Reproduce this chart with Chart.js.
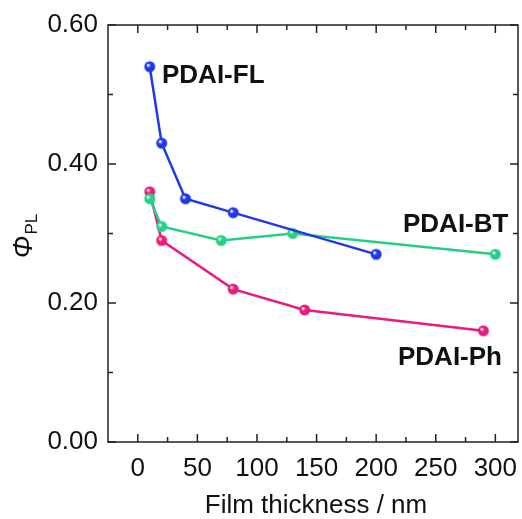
<!DOCTYPE html>
<html>
<head>
<meta charset="utf-8">
<script src="https://cdn.jsdelivr.net/npm/chart.js@4.4.0/dist/chart.umd.min.js"></script>
<style>
  html, body { margin: 0; padding: 0; background: #fff; }
  #wrap { width: 522px; height: 519px; position: relative; }
</style>
</head>
<body>
<div id="wrap"><canvas id="c" width="522" height="519"></canvas></div>
<script>
// ---- data ----
const seriesNames = ['PDAI-FL', 'PDAI-BT', 'PDAI-Ph'];
const thicknessFL = [10, 20, 40, 80, 200];
const phiFL       = [0.54, 0.43, 0.35, 0.33, 0.27];
const thicknessBT = [10, 20, 70, 130, 300];
const phiBT       = [0.35, 0.31, 0.29, 0.30, 0.27];
const thicknessPh = [10, 20, 80, 140, 290];
const phiPh       = [0.36, 0.29, 0.22, 0.19, 0.16];
const xTicks = [0, 50, 100, 150, 200, 250, 300];
const yTicks = [0.00, 0.20, 0.40, 0.60];
const xMinorTicks = [25, 75, 125, 175, 225, 275];
const yMinorTicks = [0.10, 0.30, 0.50];
const xTitle = 'Film thickness / nm';

const colors = ['#2138e6', '#27cf86', '#ea1a7e'];

function sphere(color) {
  const r = 5.5, s = 14;
  const cv = document.createElement('canvas');
  cv.width = s; cv.height = s;
  const g = cv.getContext('2d');
  const grad = g.createRadialGradient(s/2 - 1.8, s/2 - 1.8, 0.5, s/2, s/2, r);
  grad.addColorStop(0, '#ffffff');
  grad.addColorStop(0.35, color);
  grad.addColorStop(1, color);
  g.fillStyle = grad;
  g.beginPath(); g.arc(s/2, s/2, r, 0, Math.PI * 2); g.fill();
  return cv;
}

function toPts(xs, ys) { return xs.map((x, i) => ({ x: x, y: ys[i] })); }

const datasets = [
  [thicknessFL, phiFL], [thicknessBT, phiBT], [thicknessPh, phiPh]
].map((d, i) => ({
  label: seriesNames[i],
  data: toPts(d[0], d[1]),
  borderColor: colors[i],
  backgroundColor: colors[i],
  borderWidth: 2.5,
  pointStyle: sphere(colors[i]),
  pointRadius: 5.5,
  pointHoverRadius: 5.5,
  tension: 0
}));

datasets[0].order = 0; datasets[1].order = 1; datasets[2].order = 2;

const labelPos = [
  { x: 162, y: 76 }, { x: 403, y: 225 }, { x: 398, y: 358 }
];

const FONT = '"Liberation Sans", Arial, sans-serif';

const decor = {
  id: 'decor',
  afterDatasetsDraw(chart) {
    const ctx = chart.ctx;
    const a = chart.chartArea;
    const xs = chart.scales.x, ys = chart.scales.y;
    ctx.save();
    ctx.strokeStyle = '#222';
    ctx.lineWidth = 1.5;
    ctx.strokeRect(a.left, a.top, a.right - a.left, a.bottom - a.top);
    ctx.beginPath();
    const maj = 8, min = 5;
    xTicks.forEach(v => {
      const p = xs.getPixelForValue(v);
      ctx.moveTo(p, a.bottom); ctx.lineTo(p, a.bottom - maj);
      ctx.moveTo(p, a.top); ctx.lineTo(p, a.top + maj);
    });
    xMinorTicks.forEach(v => {
      const p = xs.getPixelForValue(v);
      ctx.moveTo(p, a.bottom); ctx.lineTo(p, a.bottom - min);
      ctx.moveTo(p, a.top); ctx.lineTo(p, a.top + min);
    });
    yTicks.forEach(v => {
      const p = ys.getPixelForValue(v);
      ctx.moveTo(a.left, p); ctx.lineTo(a.left + maj, p);
      ctx.moveTo(a.right, p); ctx.lineTo(a.right - maj, p);
    });
    yMinorTicks.forEach(v => {
      const p = ys.getPixelForValue(v);
      ctx.moveTo(a.left, p); ctx.lineTo(a.left + min, p);
      ctx.moveTo(a.right, p); ctx.lineTo(a.right - min, p);
    });
    ctx.stroke();

    // series labels
    ctx.fillStyle = '#111';
    ctx.font = 'bold 26px ' + FONT;
    ctx.textBaseline = 'middle';
    ctx.textAlign = 'left';
    seriesNames.forEach((n, i) => ctx.fillText(n, labelPos[i].x, labelPos[i].y));

    // x title
    ctx.font = '26px ' + FONT;
    ctx.textAlign = 'center';
    ctx.fillText(xTitle, (a.left + a.right) / 2 + 3, 506);

    // y title: italic Phi with subscript PL
    ctx.translate(24, 236);
    ctx.rotate(-Math.PI / 2);
    ctx.textAlign = 'left';
    ctx.font = 'italic 27px ' + FONT;
    const phi = '\u03A6';
    const w = ctx.measureText(phi).width;
    ctx.font = '17px ' + FONT;
    const w2 = ctx.measureText('PL').width;
    const start = -(w + w2 + 1) / 2;
    ctx.font = 'italic 27px ' + FONT;
    ctx.fillText(phi, start, 0);
    ctx.font = '17px ' + FONT;
    ctx.fillText('PL', start + w + 1, 8);
    ctx.restore();
  }
};

new Chart(document.getElementById('c'), {
  type: 'line',
  data: { datasets: datasets },
  options: {
    responsive: false,
    animation: false,
    devicePixelRatio: 1,
    layout: { autoPadding: false, padding: { top: 25, right: 4, left: 0, bottom: 0 } },
    plugins: { legend: { display: false }, tooltip: { enabled: false } },
    scales: {
      x: {
        type: 'linear',
        min: -25, max: 319,
        grid: { display: false, drawTicks: false },
        border: { display: false },
        afterBuildTicks: s => { s.ticks = xTicks.map(v => ({ value: v })); },
        afterFit: s => { s.height = 77; s.paddingLeft = 0; s.paddingRight = 0; s.paddingTop = 0; s.paddingBottom = 0; },
        ticks: {
          color: '#111', padding: 11,
          font: { family: FONT, size: 26 },
          callback: v => String(v)
        }
      },
      y: {
        type: 'linear',
        min: 0, max: 0.6,
        grid: { display: false, drawTicks: false },
        border: { display: false },
        afterBuildTicks: s => { s.ticks = yTicks.map(v => ({ value: v })); },
        afterFit: s => { s.width = 108; s.paddingTop = 0; s.paddingBottom = 0; s.paddingLeft = 0; s.paddingRight = 0; },
        ticks: {
          color: '#111', padding: 10,
          font: { family: FONT, size: 26 },
          callback: v => v.toFixed(2)
        }
      }
    }
  },
  plugins: [decor]
});
</script>
</body>
</html>
